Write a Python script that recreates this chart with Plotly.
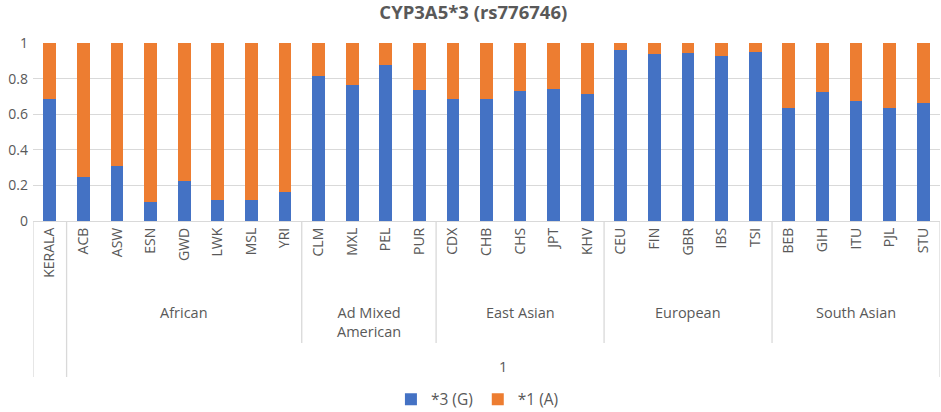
import plotly.graph_objects as go

# populations, in plotting order
populations = ["KERALA", "ACB", "ASW", "ESN", "GWD", "LWK", "MSL", "YRI",
               "CLM", "MXL", "PEL", "PUR",
               "CDX", "CHB", "CHS", "JPT", "KHV",
               "CEU", "FIN", "GBR", "IBS", "TSI",
               "BEB", "GIH", "ITU", "PJL", "STU"]

# allele frequencies
allele_g = [0.684, 0.249, 0.308, 0.105, 0.224, 0.116, 0.116, 0.164,
            0.817, 0.764, 0.877, 0.735,
            0.688, 0.688, 0.731, 0.744, 0.714,
            0.961, 0.940, 0.944, 0.929, 0.950,
            0.634, 0.723, 0.675, 0.634, 0.664]
allele_a = [0.316, 0.751, 0.692, 0.895, 0.776, 0.884, 0.884, 0.836,
            0.183, 0.236, 0.123, 0.265,
            0.312, 0.312, 0.269, 0.256, 0.286,
            0.039, 0.060, 0.056, 0.071, 0.050,
            0.366, 0.277, 0.325, 0.366, 0.336]

# super-population groups: (label, first index, last index)
groups = [("African", 1, 7), ("Ad Mixed<br>American", 8, 11),
          ("East Asian", 12, 16), ("European", 17, 21), ("South Asian", 22, 26)]

grey = "#595959"
font = "Open Sans"

fig = go.Figure()
fig.add_trace(go.Bar(x=populations, y=allele_g, name="*3 (G)",
                     marker=dict(color="#4472C4", line=dict(width=0))))
fig.add_trace(go.Bar(x=populations, y=allele_a, name="*1 (A)",
                     marker=dict(color="#ED7D31", line=dict(width=0))))

# plot area spans y px 43..221, so paper units below the axis are px/178
def below(px):
    return -(px - 221) / 178.0

# separator lines under the category axis
for xb in [-0.5, 0.5, 26.5]:
    fig.add_shape(type="line", xref="x", yref="paper", x0=xb, x1=xb,
                  y0=0, y1=below(377), line=dict(color="#D9D9D9", width=1.3))
for label, i0, i1 in groups[:-1]:
    xb = i1 + 0.5
    fig.add_shape(type="line", xref="x", yref="paper", x0=xb, x1=xb,
                  y0=0, y1=below(343), line=dict(color="#D9D9D9", width=1.3))

for label, i0, i1 in groups:
    fig.add_annotation(x=(i0 + i1) / 2, y=below(301), xref="x", yref="paper",
                       text=label, showarrow=False, yanchor="top",
                       font=dict(family=font, size=14.5, color=grey))

fig.add_annotation(x=13.5, y=below(366), xref="x", yref="paper", text="1",
                   showarrow=False, yanchor="middle",
                   font=dict(family=font, size=14.5, color=grey))

fig.update_layout(
    width=941, height=412,
    barmode="stack", bargap=0.62,
    paper_bgcolor="white", plot_bgcolor="white",
    margin=dict(l=33, r=1, t=43, b=191),
    title=dict(text="<b>CYP3A5*3 (rs776746)</b>", x=0.503, xanchor="center",
               y=0.97, yanchor="middle",
               font=dict(family=font, size=18.5, color=grey)),
    font=dict(family=font, color=grey),
    legend=dict(orientation="h", x=0.49, xanchor="center",
                yref="container", y=0.03, yanchor="middle",
                font=dict(family=font, size=15.5, color=grey),
                itemwidth=30, traceorder="normal"),
)
fig.update_xaxes(type="category", range=[-0.5, 26.5], tickangle=-90,
                 tickfont=dict(family=font, size=14, color=grey),
                 showline=True, linecolor="#D9D9D9", linewidth=1.3,
                 ticks="", showgrid=False)
fig.update_yaxes(range=[0, 1], dtick=0.2, showgrid=True, gridcolor="#D9D9D9",
                 gridwidth=1.3, zeroline=False, showline=False,
                 tickfont=dict(family=font, size=14, color=grey),
                 tickformat="~g", ticklabelstandoff=4)

# drop the browser's default body margin so the figure sits at the page corner
fig.write_html("out.html", config={"displayModeBar": False},
               post_script="document.body.style.margin='0';")
